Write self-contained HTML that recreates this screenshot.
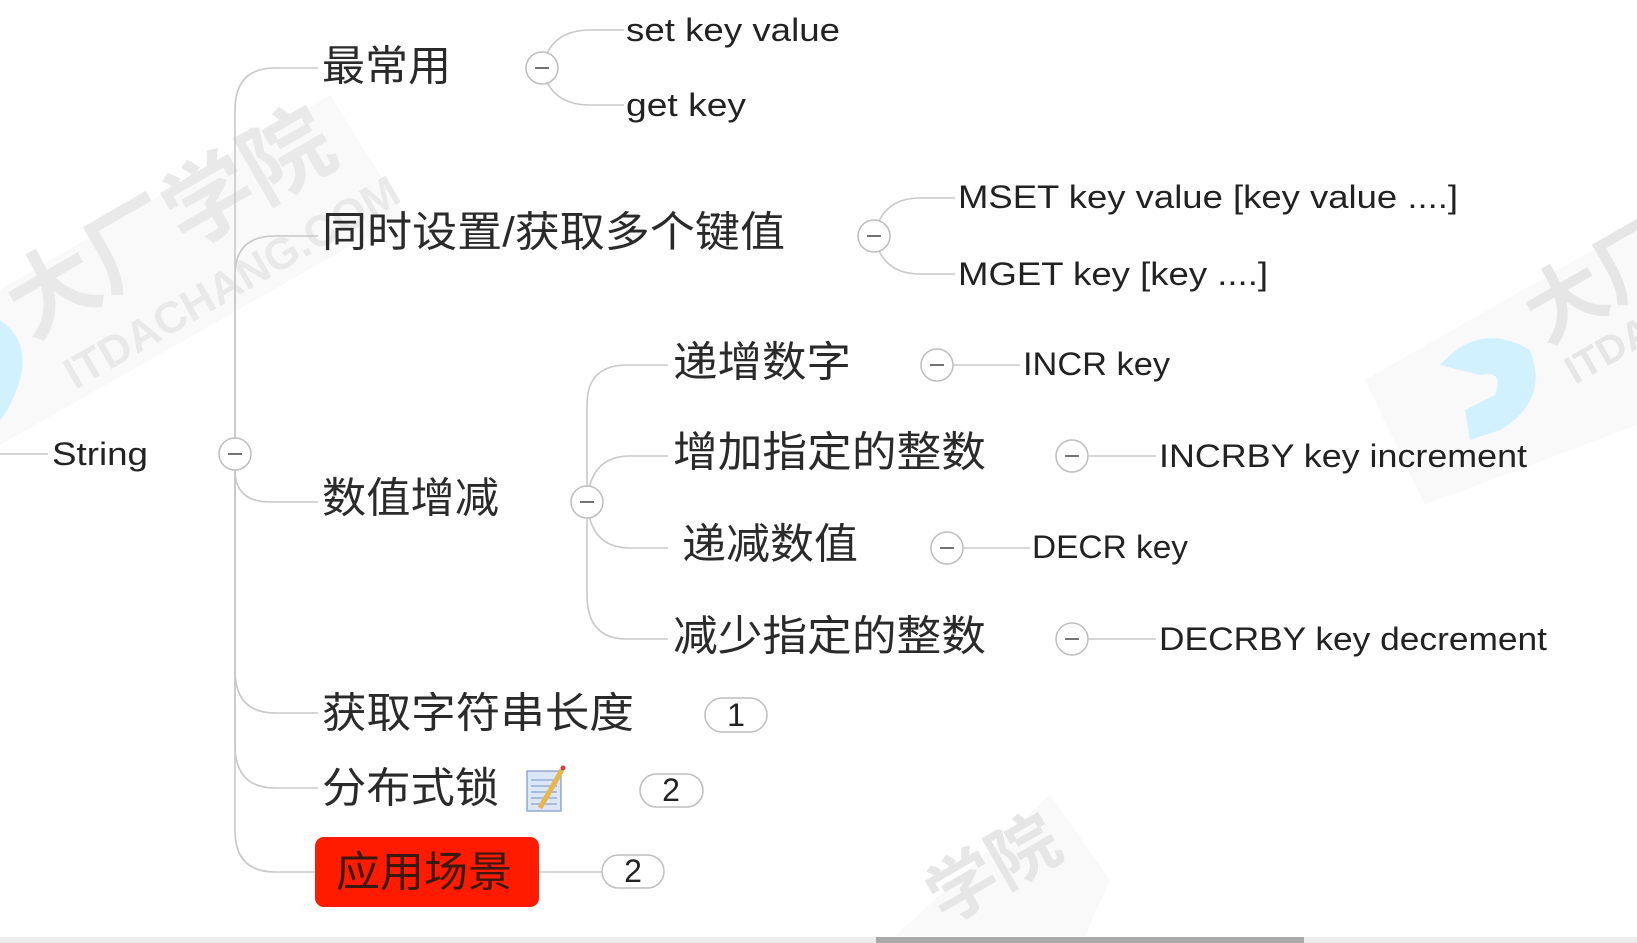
<!DOCTYPE html>
<html><head><meta charset="utf-8"><style>
html,body{margin:0;padding:0;background:#fff;width:1637px;height:943px;overflow:hidden}
svg{display:block;position:absolute;left:0;top:0;overflow:hidden}
.cj{font-family:"Liberation Sans","Noto Sans CJK SC",sans-serif;font-size:42px;fill:#2a2a2a}
.la{font-family:"Liberation Sans",sans-serif;font-size:32px;fill:#222}
.ln{fill:none;stroke:#c8c8c8;stroke-width:1.6}
.cc{fill:#fff;stroke:#bdbdbd;stroke-width:1.5}
</style></head><body>
<svg width="1637" height="943" viewBox="0 0 1637 943" xmlns="http://www.w3.org/2000/svg">
<defs><clipPath id="cf"><rect x="0" y="0" width="1637" height="936"/></clipPath></defs>
<!-- watermarks -->
<g opacity="0.4" clip-path="url(#cf)">
 <polygon points="0,290 330,95 405,215 0,445" fill="#f1f1f1"/>
 <text transform="translate(30,340) rotate(-30)" font-family="Liberation Sans,Noto Sans CJK SC,sans-serif" font-size="90" font-weight="bold" fill="#c8c8c8">大厂学院</text>
 <text transform="translate(75,390) rotate(-30)" font-family="Liberation Sans,sans-serif" font-size="44" font-weight="bold" fill="#c8c8c8">ITDACHANG.COM</text>
 <path d="M0,320 Q30,340 20,380 Q10,410 0,420 Z" fill="#8fdcff"/>
 <polygon points="1365,380 1637,225 1637,425 1425,505" fill="#f1f1f1"/>
 <text transform="translate(1545,345) rotate(-30)" font-family="Liberation Sans,Noto Sans CJK SC,sans-serif" font-size="80" font-weight="bold" fill="#c0c0c0">大厂</text>
 <text transform="translate(1575,385) rotate(-30)" font-family="Liberation Sans,sans-serif" font-size="40" font-weight="bold" fill="#c0c0c0">ITDA</text>
 <path d="M1440,365 Q1480,320 1530,350 Q1550,400 1500,430 L1470,440 L1465,410 L1495,395 Q1505,370 1480,375 Z" fill="#8fdcff"/>
 <polygon points="895,936 1050,795 1110,880 1085,936" fill="#f1f1f1"/>
 <text transform="translate(945,925) rotate(-30)" font-family="Liberation Sans,Noto Sans CJK SC,sans-serif" font-size="70" font-weight="bold" fill="#c0c0c0">学院</text>
</g>

<!-- connectors -->
<line class="ln" x1="0" y1="454" x2="48" y2="454"/>
<path class="ln" d="M235,454 L235,110 Q235,68 275,68 L318,68"/>
<path class="ln" d="M235,454 L235,275 Q235,236 275,236 L318,236"/>
<path class="ln" d="M235,454 L235,470 Q235,502 270,502 L318,502"/>
<path class="ln" d="M235,454 L235,670 Q235,713 275,713 L318,713"/>
<path class="ln" d="M235,454 L235,745 Q235,788 275,788 L318,788"/>
<path class="ln" d="M235,454 L235,830 Q235,872 275,872 L315,872"/>
<path class="ln" d="M542,68 Q550,30 590,30 L624,30"/>
<path class="ln" d="M542,68 Q550,105 590,105 L624,105"/>
<path class="ln" d="M874,236 Q882,198 920,198 L955,198"/>
<path class="ln" d="M874,236 Q882,274 920,274 L955,274"/>
<path class="ln" d="M587,502 L587,405 Q587,365 627,365 L668,365"/>
<path class="ln" d="M587,502 Q590,456 630,456 L668,456"/>
<path class="ln" d="M587,502 Q590,548 630,548 L668,548"/>
<path class="ln" d="M587,502 L587,595 Q587,639 627,639 L668,639"/>
<line class="ln" x1="937" y1="365" x2="1020" y2="365"/>
<line class="ln" x1="1072" y1="456" x2="1156" y2="456"/>
<line class="ln" x1="947" y1="548" x2="1030" y2="548"/>
<line class="ln" x1="1072" y1="639" x2="1156" y2="639"/>
<line class="ln" x1="539" y1="872" x2="602" y2="872"/>

<!-- collapse circles -->
<g>
 <circle class="cc" cx="235" cy="454" r="16"/><line x1="228" y1="454" x2="242" y2="454" stroke="#444" stroke-width="1.5"/>
 <circle class="cc" cx="542" cy="68" r="16"/><line x1="535" y1="68" x2="549" y2="68" stroke="#444" stroke-width="1.5"/>
 <circle class="cc" cx="874" cy="236" r="16"/><line x1="867" y1="236" x2="881" y2="236" stroke="#444" stroke-width="1.5"/>
 <circle class="cc" cx="587" cy="502" r="16"/><line x1="580" y1="502" x2="594" y2="502" stroke="#444" stroke-width="1.5"/>
 <circle class="cc" cx="937" cy="365" r="16"/><line x1="930" y1="365" x2="944" y2="365" stroke="#444" stroke-width="1.5"/>
 <circle class="cc" cx="1072" cy="456" r="16"/><line x1="1065" y1="456" x2="1079" y2="456" stroke="#444" stroke-width="1.5"/>
 <circle class="cc" cx="947" cy="548" r="16"/><line x1="940" y1="548" x2="954" y2="548" stroke="#444" stroke-width="1.5"/>
 <circle class="cc" cx="1072" cy="639" r="16"/><line x1="1065" y1="639" x2="1079" y2="639" stroke="#444" stroke-width="1.5"/>
</g>

<!-- badges -->
<rect class="cc" x="705" y="698" width="62" height="34" rx="17"/>
<text class="la" x="736" y="726" text-anchor="middle" font-size="26">1</text>
<rect class="cc" x="640" y="774" width="63" height="33" rx="16.5"/>
<text class="la" x="671" y="801" text-anchor="middle" font-size="26">2</text>
<rect class="cc" x="602" y="855" width="62" height="33" rx="16.5"/>
<text class="la" x="633" y="882" text-anchor="middle" font-size="26">2</text>

<!-- red node -->
<rect x="315" y="837" width="224" height="70" rx="9" fill="#fe1b00"/>
<text class="cj" x="336" y="872" dominant-baseline="central" textLength="176" lengthAdjust="spacingAndGlyphs" style="fill:#3a1a10">应用场景</text>

<!-- note icon -->
<rect x="527" y="771" width="34" height="40" fill="#dbe6f7" stroke="#7e97c2" stroke-width="1.2"/>
<g stroke="#8aa3cf" stroke-width="1.2"><line x1="531" y1="780" x2="557" y2="780"/><line x1="531" y1="786" x2="557" y2="786"/><line x1="531" y1="792" x2="557" y2="792"/><line x1="531" y1="798" x2="557" y2="798"/><line x1="531" y1="804" x2="557" y2="804"/></g>
<line x1="562" y1="770" x2="540" y2="808" stroke="#e8b64a" stroke-width="5"/>
<circle cx="563" cy="768" r="2.5" fill="#d04040"/>

<!-- texts -->
<text class="la" x="52" y="454" dominant-baseline="central" textLength="96" lengthAdjust="spacingAndGlyphs">String</text>
<text class="cj" x="322" y="66" dominant-baseline="central" textLength="129" lengthAdjust="spacingAndGlyphs">最常用</text>
<text class="cj" x="322" y="232" dominant-baseline="central" textLength="463" lengthAdjust="spacingAndGlyphs">同时设置/获取多个键值</text>
<text class="cj" x="322" y="498" dominant-baseline="central" textLength="177" lengthAdjust="spacingAndGlyphs">数值增减</text>
<text class="cj" x="322" y="713" dominant-baseline="central" textLength="312" lengthAdjust="spacingAndGlyphs">获取字符串长度</text>
<text class="cj" x="322" y="788" dominant-baseline="central" textLength="177" lengthAdjust="spacingAndGlyphs">分布式锁</text>
<text class="cj" x="673" y="362" dominant-baseline="central" textLength="178" lengthAdjust="spacingAndGlyphs">递增数字</text>
<text class="cj" x="673" y="452" dominant-baseline="central" textLength="313" lengthAdjust="spacingAndGlyphs">增加指定的整数</text>
<text class="cj" x="682" y="544" dominant-baseline="central" textLength="176" lengthAdjust="spacingAndGlyphs">递减数值</text>
<text class="cj" x="673" y="636" dominant-baseline="central" textLength="313" lengthAdjust="spacingAndGlyphs">减少指定的整数</text>

<text class="la" x="626" y="30" dominant-baseline="central" textLength="214" lengthAdjust="spacingAndGlyphs">set key value</text>
<text class="la" x="626" y="105" dominant-baseline="central" textLength="120" lengthAdjust="spacingAndGlyphs">get key</text>
<text class="la" x="958" y="197" dominant-baseline="central" textLength="500" lengthAdjust="spacingAndGlyphs">MSET key value [key value ....]</text>
<text class="la" x="958" y="274" dominant-baseline="central" textLength="310" lengthAdjust="spacingAndGlyphs">MGET key [key ....]</text>
<text class="la" x="1023" y="364" dominant-baseline="central" textLength="147" lengthAdjust="spacingAndGlyphs">INCR key</text>
<text class="la" x="1159" y="456" dominant-baseline="central" textLength="368" lengthAdjust="spacingAndGlyphs">INCRBY key increment</text>
<text class="la" x="1032" y="547" dominant-baseline="central" textLength="156" lengthAdjust="spacingAndGlyphs">DECR key</text>
<text class="la" x="1159" y="639" dominant-baseline="central" textLength="388" lengthAdjust="spacingAndGlyphs">DECRBY key decrement</text>

<!-- bottom bar -->
<rect x="0" y="937" width="1637" height="6" fill="#ececec"/>
<rect x="876" y="937" width="428" height="6" fill="#a9a9a9"/>
</svg>
</body></html>
